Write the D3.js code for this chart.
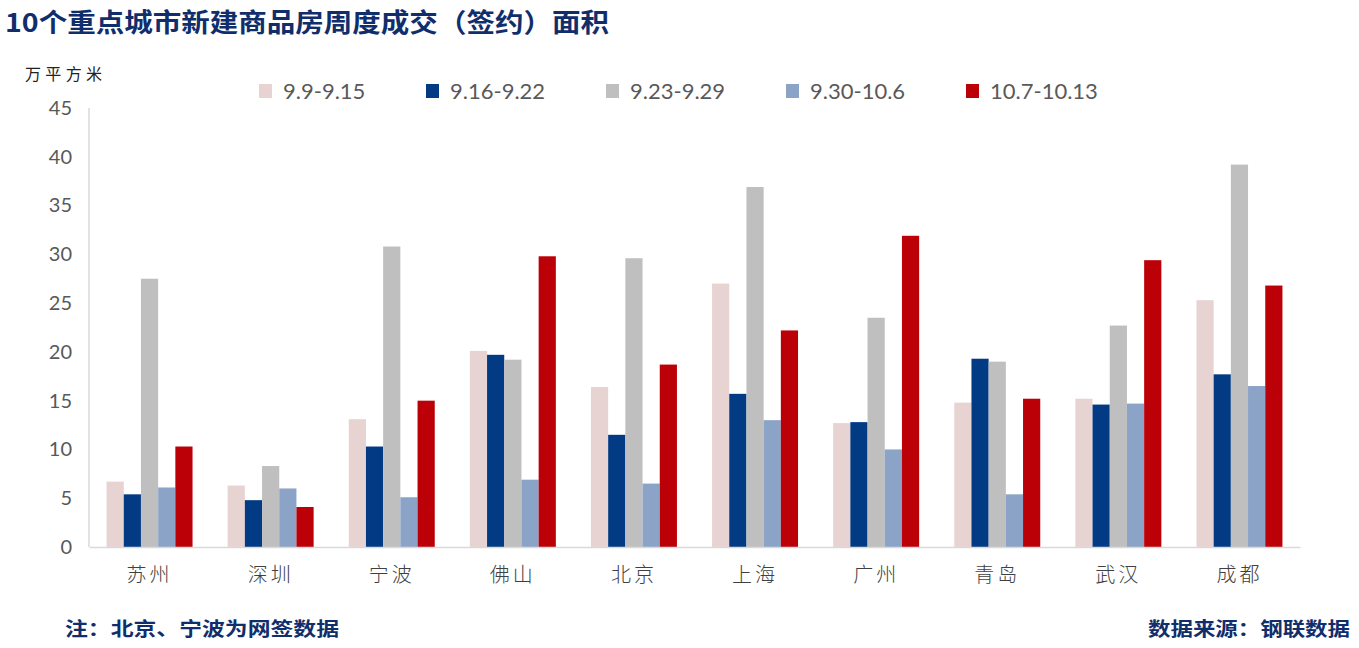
<!DOCTYPE html>
<html>
<head>
<meta charset="utf-8">
<script src="https://cdn.jsdelivr.net/npm/d3@7"></script>
<style>
  html, body { margin: 0; padding: 0; background: #ffffff; }
  svg { display: block; }
</style>
</head>
<body>
<svg id="chart" width="1359" height="648"></svg>
<script>
// ---- data ----
const cities = ["苏州", "深圳", "宁波", "佛山", "北京", "上海", "广州", "青岛", "武汉", "成都"];
const seriesNames = ["9.9-9.15", "9.16-9.22", "9.23-9.29", "9.30-10.6", "10.7-10.13"];
const week1 = [6.7, 6.3, 13.1, 20.1, 16.4, 27.0, 12.7, 14.8, 15.2, 25.3];
const week2 = [5.4, 4.8, 10.3, 19.7, 11.5, 15.7, 12.8, 19.3, 14.6, 17.7];
const week3 = [27.5, 8.3, 30.8, 19.2, 29.6, 36.9, 23.5, 19.0, 22.7, 39.2];
const week4 = [6.1, 6.0, 5.1, 6.9, 6.5, 13.0, 10.0, 5.4, 14.7, 16.5];
const week5 = [10.3, 4.1, 15.0, 29.8, 18.7, 22.2, 31.9, 15.2, 29.4, 26.8];
const yTicks = [0, 5, 10, 15, 20, 25, 30, 35, 40, 45];
const colors = ["#E8D3D3", "#023A84", "#BFBFBF", "#8BA3C7", "#BC0008"];
const title = "10个重点城市新建商品房周度成交（签约）面积";
const unitLabel = "万平方米";
const noteLeft = "注：北京、宁波为网签数据";
const noteRight = "数据来源：钢联数据";

const allSeries = [week1, week2, week3, week4, week5];

// ---- layout ----
const svg = d3.select("#chart");
const plot = { left: 89, right: 1300, top: 108, bottom: 547 };

const x0 = d3.scaleBand().domain(cities).range([plot.left, plot.right])
  .paddingInner(0.29).paddingOuter(0.145);
const x1 = d3.scaleBand().domain(d3.range(seriesNames.length)).range([0, x0.bandwidth()]).padding(0);
const y = d3.scaleLinear().domain([0, 45]).range([plot.bottom, plot.top]);

const cjk = "'Noto Sans CJK SC', sans-serif";
const latin = "Lato, 'Open Sans', sans-serif";

// title
svg.append("text")
  .attr("x", 5).attr("y", 32)
  .attr("font-family", cjk).attr("font-weight", 700)
  .attr("font-size", 26).attr("fill", "#112E6C")
  .attr("textLength", 604).attr("lengthAdjust", "spacingAndGlyphs")
  .text(title);

// unit
svg.append("text")
  .attr("x", 25).attr("y", 80)
  .attr("font-family", cjk).attr("font-size", 16).attr("fill", "#222")
  .attr("textLength", 77).attr("lengthAdjust", "spacing")
  .text(unitLabel);

// axes lines
svg.append("line")
  .attr("x1", plot.left).attr("x2", plot.left)
  .attr("y1", plot.top).attr("y2", plot.bottom)
  .attr("stroke", "#D9D9D9").attr("stroke-width", 1.5);

// y ticks
const yAxis = d3.axisLeft(y).tickValues(yTicks).tickSize(0).tickPadding(17);
const gy = svg.append("g").attr("transform", `translate(${plot.left},0)`).call(yAxis);
gy.select(".domain").remove();
gy.selectAll("text")
  .attr("font-family", latin).attr("font-size", 20).attr("fill", "#595959");

// bars
const groups = svg.append("g").selectAll("g")
  .data(cities)
  .join("g")
  .attr("transform", d => `translate(${x0(d)},0)`);

groups.selectAll("rect")
  .data((d, i) => allSeries.map((s, k) => ({ k, v: s[i] })))
  .join("rect")
  .attr("x", d => x1(d.k))
  .attr("width", x1.bandwidth())
  .attr("y", d => y(d.v))
  .attr("height", d => y(0) - y(d.v))
  .attr("fill", d => colors[d.k]);

// x axis
const xAxis = d3.axisBottom(x0).tickSize(0).tickPadding(21);
const gx = svg.append("g").attr("transform", `translate(0,${plot.bottom})`).call(xAxis);
gx.select(".domain").attr("stroke", "#D9D9D9").attr("stroke-width", 1.5);
gx.selectAll("text")
  .attr("font-family", cjk).attr("font-size", 20).attr("font-weight", 300)
  .attr("fill", "#404040")
  .attr("letter-spacing", 3);

// legend
const legendX = [259, 426, 606, 786, 966];
const legend = svg.append("g").selectAll("g")
  .data(seriesNames)
  .join("g")
  .attr("transform", (d, i) => `translate(${legendX[i]},84)`);
legend.append("rect")
  .attr("width", 13).attr("height", 14)
  .attr("fill", (d, i) => colors[i]);
legend.append("text")
  .attr("x", 24).attr("y", 15)
  .attr("font-family", latin).attr("font-size", 22).attr("fill", "#595959")
  .text(d => d);

// footnotes
svg.append("text")
  .attr("x", 65).attr("y", 636)
  .attr("font-family", cjk).attr("font-weight", 700)
  .attr("font-size", 19).attr("fill", "#112E6C")
  .attr("textLength", 274).attr("lengthAdjust", "spacingAndGlyphs")
  .text(noteLeft);
svg.append("text")
  .attr("x", 1148).attr("y", 636)
  .attr("font-family", cjk).attr("font-weight", 700)
  .attr("font-size", 19).attr("fill", "#112E6C")
  .attr("textLength", 202).attr("lengthAdjust", "spacingAndGlyphs")
  .text(noteRight);
</script>
</body>
</html>
